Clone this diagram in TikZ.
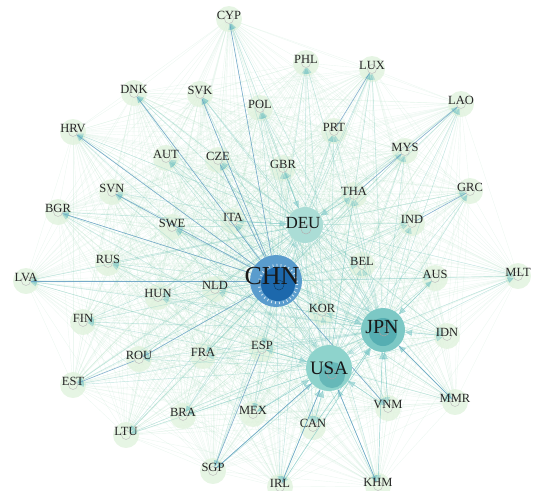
\documentclass[tikz,border=0pt]{standalone}
\usepackage{fontspec}
\setmainfont{Liberation Serif}
\usetikzlibrary{arrows.meta}
\definecolor{hazec}{HTML}{A9DBBE}
\definecolor{halofill}{HTML}{E2F3DF}
\definecolor{hubedge}{HTML}{79C6C6}
\definecolor{strongedge}{HTML}{5A92C2}
\definecolor{chnout}{HTML}{5A9CCD}
\definecolor{chnin}{HTML}{1C68AC}
\definecolor{deuc}{HTML}{ABDDD6}
\definecolor{jpnout}{HTML}{7CC8C5}
\definecolor{jpnin}{HTML}{55AEB2}
\definecolor{usaout}{HTML}{8ED3CC}
\definecolor{usain}{HTML}{66B8B8}
\pgfdeclarelayer{bg}
\pgfdeclarelayer{halo}
\pgfdeclarelayer{mid}
\pgfsetlayers{bg,halo,mid,main}
\tikzset{
  smallnode/.style={circle, draw=gray!50, line width=0.45pt, minimum size=9pt, inner sep=0pt},
  lab/.style={text=black!85, font=\fontsize{12.5}{14}\selectfont, inner sep=0pt, yshift=4pt},
  hazeedge/.style={draw=hazec, line width=0.4pt, opacity=0.22},
  hubline/.style={draw=hubedge, line width=0.45pt, opacity=0.38, -{Triangle[length=6pt,width=5pt]}},
  inline/.style={draw=hubedge, line width=0.45pt, opacity=0.55, -{Triangle[length=7pt,width=6pt]}},
  strongline/.style={draw=strongedge, line width=0.6pt, opacity=0.7},
  hubtext/.style={text=black!90, inner sep=0pt}
}
\begin{document}
\begin{tikzpicture}[x=1pt,y=-1pt]
\useasboundingbox (0,0) rectangle (534,490);
% small nodes (label centre given; circle 4pt below)
\foreach \n/\x/\y in {CYP/229/15, PHL/306/59, LUX/372/65, DNK/134/89, SVK/200/90, POL/260/104, LAO/461/100, HRV/73/128, AUT/166/154, CZE/218/156, PRT/334/127, MYS/405/147, GBR/283/164, THA/354/191, GRC/470/187, SVN/112/188, BGR/58/208, SWE/172/223, ITA/233/217, IND/412/219, RUS/108/259, LVA/26/277, BEL/362/261, AUS/435/274, MLT/518/272, HUN/158/293, NLD/215/285, FIN/83/318, KOR/322/308, IDN/447/332, ROU/139/355, FRA/203/352, ESP/262/345, EST/73/381, MMR/455/398, VNM/388/404, BRA/183/412, MEX/253/410, LTU/126/431, CAN/313/423, SGP/213/467, IRL/280/483, KHM/378/482}
  {\node[smallnode, label={[lab]center:\n}] (\n) at (\x,\y+4) {};}
% hubs
\node[circle, fill=deuc, minimum size=36pt, inner sep=0pt] (DEU) at (305,225) {};
\node[circle, fill=jpnout, minimum size=44pt, inner sep=0pt] (JPN) at (383,330) {};
\node[circle, fill=jpnin, minimum size=28pt, inner sep=0pt] (JPNin) at (383,332) {};
\node[circle, fill=usaout, minimum size=46pt, inner sep=0pt] (USA) at (329,368) {};
\node[circle, fill=usain, minimum size=26pt, inner sep=0pt] (USAin) at (332,375) {};
\node[circle, fill=chnout, minimum size=52pt, inner sep=0pt] (CHN) at (276,281) {};
\node[circle, fill=chnin, minimum size=34pt, inner sep=0pt] (CHNin) at (278,284) {};
\draw[white, opacity=0.8, line width=2.5pt, dash pattern=on 0.8pt off 3.2pt] (CHNin.center) circle[radius=19];
\node[circle, draw=chnin!60!black, line width=0.5pt, minimum size=10pt, inner sep=0pt] (CHNdot) at (279,285) {};
\node[circle, draw=gray!60, line width=0.5pt, minimum size=10pt, inner sep=0pt] (DEUdot) at (306,229) {};
\node[circle, draw=gray!70, line width=0.5pt, minimum size=10pt, inner sep=0pt] (JPNdot) at (384,331) {};
\node[circle, draw=gray!70, line width=0.5pt, minimum size=10pt, inner sep=0pt] (USAdot) at (332,374) {};
\node[hubtext, font=\fontsize{26}{28}\selectfont] (CHNl) at (272,276) {CHN};
\node[hubtext, font=\fontsize{17}{19}\selectfont] (DEUl) at (303,223) {DEU};
\node[hubtext, font=\fontsize{20}{22}\selectfont] (JPNl) at (382,327) {JPN};
\node[hubtext, font=\fontsize{19}{21}\selectfont] (USAl) at (329,368) {USA};
\def\allnames{CYP,PHL,LUX,DNK,SVK,POL,LAO,HRV,AUT,CZE,PRT,MYS,GBR,THA,GRC,SVN,BGR,SWE,ITA,IND,RUS,LVA,BEL,AUS,MLT,HUN,NLD,FIN,KOR,IDN,ROU,FRA,ESP,EST,MMR,VNM,BRA,MEX,LTU,CAN,SGP,IRL,KHM,CHN,DEU,JPN,USA}
\def\smallnames{CYP,PHL,LUX,DNK,SVK,POL,LAO,HRV,AUT,CZE,PRT,MYS,GBR,THA,GRC,SVN,BGR,SWE,ITA,IND,RUS,LVA,BEL,AUS,MLT,HUN,NLD,FIN,KOR,IDN,ROU,FRA,ESP,EST,MMR,VNM,BRA,MEX,LTU,CAN,SGP,IRL,KHM}
\begin{pgfonlayer}{bg}
\foreach \a [count=\i] in \allnames {
  \foreach \b [count=\j] in \allnames {
    \ifnum\j>\i \draw[hazeedge] (\a) -- (\b); \fi
  }
}
\end{pgfonlayer}
\begin{pgfonlayer}{halo}
\foreach \a in \smallnames {\fill[halofill, opacity=0.85] (\a.center) circle[radius=13];}
\end{pgfonlayer}
\begin{pgfonlayer}{mid}
\foreach \h in {CHN,DEU,JPN,USA} {
  \foreach \b in \smallnames {\draw[hubline] (\h) -- (\b);}
}
\draw[hubline] (CHN) -- (DEU);
\draw[hubline] (CHN) -- (JPN);
\draw[hubline] (CHN) -- (USA);
\draw[hubline] (DEU) -- (JPN);
\draw[hubline] (JPN) -- (USA);
\foreach \a in {VNM, MMR, IDN, KHM, CAN, IRL, KOR, AUS}
  {\draw[inline] (\a) -- (JPN);}
\foreach \a in {CAN, IRL, SGP, MEX, KHM, VNM, ESP}
  {\draw[inline] (\a) -- (USA);}
\foreach \a in {GBR, ITA, THA}
  {\draw[inline] (\a) -- (DEU);}
\foreach \a/\b in {CHN/HRV, CHN/BGR, CHN/SVN, CHN/DNK, CHN/SVK, CHN/CYP, CHN/LVA, ROU/EST, CHN/ROU, ESP/SGP, PRT/LUX, THA/MYS, MYS/LAO, IND/GRC, CHN/VNM, USA/KHM, USA/IRL, JPN/MMR, CHN/CZE, USA/SGP}
  {\draw[strongline] (\a) -- (\b);}
\end{pgfonlayer}
\end{tikzpicture}
\end{document}
